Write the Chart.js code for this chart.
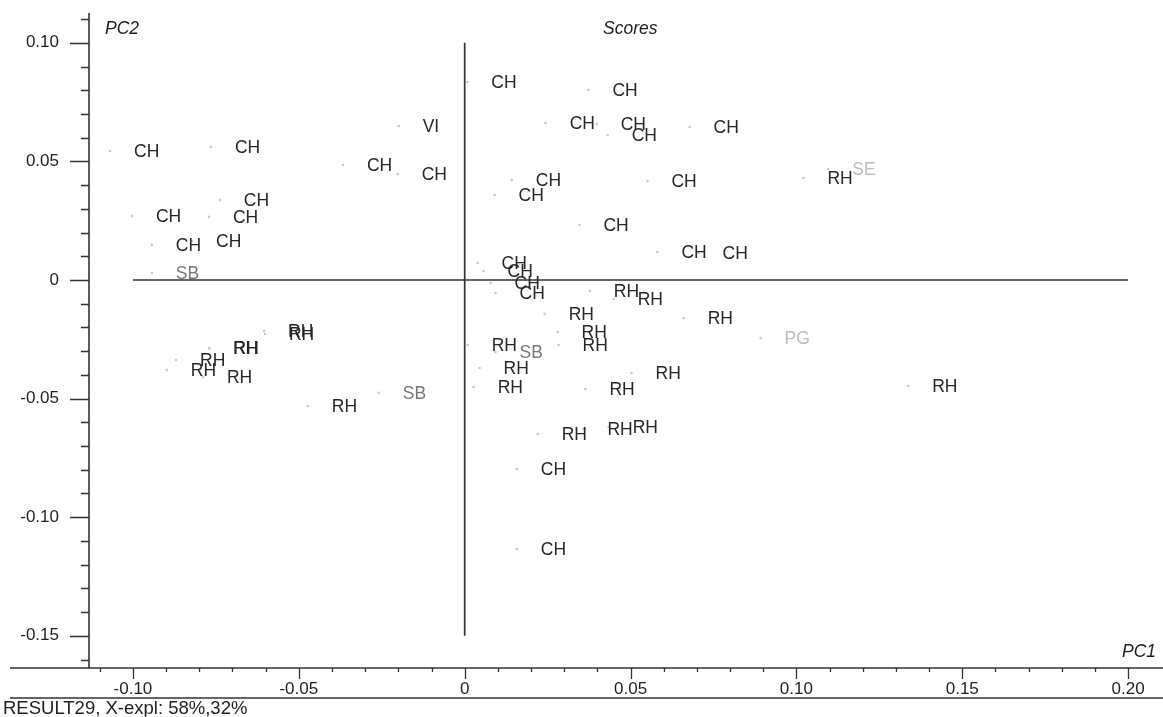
<!DOCTYPE html>
<html>
<head>
<meta charset="utf-8">
<script src="https://cdn.jsdelivr.net/npm/chart.js@4"></script>
<style>
  html,body{margin:0;padding:0;background:#fff;}
  canvas{display:block;}
</style>
</head>
<body>
<canvas id="c" width="1163" height="717"></canvas>
<script>
// ---- data ----
const sampleLabels = [
  'CH','CH','CH','CH','VI','CH','CH','CH','CH','CH','SB',
  'CH','CH','CH','CH','CH','CH','CH','CH','CH','RH','SE',
  'CH','CH','CH','CH','CH','CH','CH',
  'RH','RH','RH','RH','RH','RH','SB','RH','RH','RH','RH','RH','PG','RH',
  'RH','RH','RH','CH','CH',
  'RH','RH','RH','RH','RH','RH','RH','RH','SB'
];
const pc1 = [
  -0.1069,-0.0765,-0.0367,-0.0202,-0.0199,-0.0738,-0.1003,-0.0771,-0.0943,-0.0822,-0.0943,
  0.0008,0.0373,0.0244,0.0398,0.0431,0.0678,0.0142,0.0090,0.0551,0.1021,0.1096,
  0.0346,0.0581,0.0705,0.0039,0.0057,0.0078,0.0093,
  0.0377,0.0449,0.0241,0.0280,0.0283,0.0009,0.0093,0.0045,0.0027,0.0364,0.0503,0.0660,0.0892,0.1337,
  0.0220,0.0358,0.0434,0.0157,0.0157,
  -0.0605,-0.0602,-0.0771,-0.0769,-0.0870,-0.0898,-0.0789,-0.0473,-0.0259
];
const pc2 = [
  0.0544,0.0561,0.0485,0.0447,0.0649,0.0337,0.0270,0.0266,0.0148,0.0164,0.0030,
  0.0835,0.0801,0.0662,0.0658,0.0611,0.0645,0.0422,0.0358,0.0417,0.0430,0.0468,
  0.0232,0.0118,0.0114,0.0072,0.0038,-0.0013,-0.0055,
  -0.0046,-0.0080,-0.0143,-0.0219,-0.0274,-0.0274,-0.0304,-0.0371,-0.0451,-0.0460,-0.0392,-0.0160,-0.0245,-0.0447,
  -0.0649,-0.0628,-0.0620,-0.0797,-0.1134,
  -0.0215,-0.0228,-0.0287,-0.0289,-0.0337,-0.0379,-0.0409,-0.0531,-0.0476
];
const xTickValues = [-0.10,-0.05,0,0.05,0.10,0.15,0.20];
const yTickValues = [-0.15,-0.10,-0.05,0,0.05,0.10];
const xRange = [-0.11325, 0.2093];
const yRange = [-0.16358, 0.11256];
const vLineX = [0, 0];       const vLineY = [0.10, -0.15];
const hLineX = [-0.10, 0.20]; const hLineY = [0, 0];

const labelColors = {CH:'#262626', RH:'#262626', VI:'#262626', SB:'#777777', SE:'#bdbdbd', PG:'#bdbdbd'};
const FONT = '"Liberation Sans", Arial, Helvetica, sans-serif';

const points = pc1.map((v,i)=>({x:v, y:pc2[i]}));
const fmt = v => (Math.abs(v) < 1e-9 ? '0' : v.toFixed(2));

const decor = {
  id:'decor',
  afterDatasetsDraw(chart){
    const ctx = chart.ctx;
    const meta = chart.getDatasetMeta(0);
    ctx.save();
    ctx.font = '17.5px ' + FONT;
    ctx.textBaseline = 'middle';
    ctx.textAlign = 'left';
    meta.data.forEach((el,i)=>{
      const lab = sampleLabels[i];
      ctx.fillStyle = labelColors[lab] || '#262626';
      ctx.fillText(lab, el.x + 24, el.y + 1);
    });
    ctx.restore();
  },
  afterDraw(chart){
    const {ctx, chartArea:a, scales:{x, y}} = chart;
    ctx.save();
    ctx.strokeStyle = '#333';
    ctx.lineWidth = 1.6;
    ctx.beginPath();
    ctx.moveTo(a.left, a.top); ctx.lineTo(a.left, a.bottom);
    ctx.moveTo(10, a.bottom); ctx.lineTo(chart.width, a.bottom);
    ctx.moveTo(10, 698); ctx.lineTo(chart.width, 698);
    ctx.stroke();
    ctx.lineWidth = 1.3;
    ctx.beginPath();
    for (let k = Math.ceil(yRange[0]*100); k <= Math.floor(yRange[1]*100); k++){
      const py = Math.round(y.getPixelForValue(k/100)) + 0.5;
      const len = (k % 5 === 0) ? 19 : 8;
      ctx.moveTo(a.left - len, py); ctx.lineTo(a.left, py);
    }
    for (let k = Math.ceil(xRange[0]*100); k <= Math.floor(xRange[1]*100); k++){
      const px = Math.round(x.getPixelForValue(k/100)) + 0.5;
      const len = (k % 5 === 0) ? 11 : 4;
      ctx.moveTo(px, a.bottom); ctx.lineTo(px, a.bottom + len);
    }
    ctx.stroke();
    ctx.fillStyle = '#1e1e1e';
    ctx.font = 'italic 17.5px ' + FONT;
    ctx.textBaseline = 'middle';
    ctx.textAlign = 'left';
    ctx.fillText('PC2', 105, 29);
    ctx.fillText('Scores', 603, 29);
    ctx.textAlign = 'right';
    ctx.fillText('PC1', 1156, 652);
    ctx.textAlign = 'left';
    ctx.font = '18.5px ' + FONT;
    ctx.fillText('RESULT29, X-expl: 58%,32%', 3, 709);
    ctx.restore();
  }
};

new Chart(document.getElementById('c'), {
  data: {
    datasets: [
      {type:'scatter', data: points, pointRadius: 1.3, pointBackgroundColor:'#c8c8c8', pointBorderWidth:0, order:1},
      {type:'line', data: vLineX.map((v,i)=>({x:v, y:vLineY[i]})), borderColor:'#333', borderWidth:1.7, pointRadius:0, fill:false, order:2},
      {type:'line', data: hLineX.map((v,i)=>({x:v, y:hLineY[i]})), borderColor:'#333', borderWidth:1.7, pointRadius:0, fill:false, order:2}
    ]
  },
  options: {
    responsive:false,
    animation:false,
    devicePixelRatio:1,
    layout:{padding:{top:13, right:3, left:0, bottom:0}},
    plugins:{legend:{display:false}, tooltip:{enabled:false}, title:{display:false}},
    scales:{
      x:{
        type:'linear', min:xRange[0], max:xRange[1],
        border:{display:false},
        grid:{display:true, drawOnChartArea:false, drawTicks:true, tickLength:10, color:'rgba(0,0,0,0)'},
        ticks:{autoSkip:false, maxRotation:0, padding:1, color:'#1e1e1e', font:{family:FONT, size:17}, callback: v => fmt(v)},
        afterBuildTicks: s => { s.ticks = xTickValues.map(v=>({value:v})); },
        afterFit: s => { s.height = 49; s.paddingLeft = 0; s.paddingRight = 0; }
      },
      y:{
        type:'linear', min:yRange[0], max:yRange[1],
        border:{display:false},
        grid:{display:true, drawOnChartArea:false, drawTicks:true, tickLength:19, color:'rgba(0,0,0,0)'},
        ticks:{autoSkip:false, padding:11, color:'#1e1e1e', font:{family:FONT, size:17}, callback: v => fmt(v)},
        afterBuildTicks: s => { s.ticks = yTickValues.map(v=>({value:v})); },
        afterFit: s => { s.width = 89; s.paddingTop = 0; s.paddingBottom = 0; }
      }
    }
  },
  plugins:[decor]
});
</script>
</body>
</html>
